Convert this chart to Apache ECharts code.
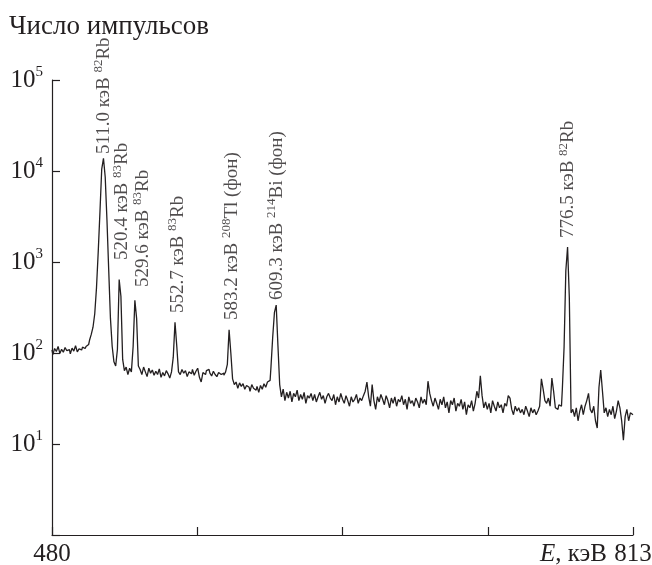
<!DOCTYPE html>
<html>
<head>
<meta charset="utf-8">
<script src="https://cdn.jsdelivr.net/npm/echarts@6/dist/echarts.min.js"></script>
<style>
  html, body { margin: 0; padding: 0; background: #fff; }
  #chart { width: 652px; height: 565px; }
</style>
</head>
<body>
<div id="chart"></div>
<script>
// spectrum: one value per 1 keV channel, starting at 480 keV
const startEnergy = 480;
const channelWidth = 1;
const counts = [
  108, 96, 112, 104, 118, 99, 110, 102, 115, 106,
  109, 98, 113, 105, 120, 103, 111, 108, 116, 112,
  118, 124, 138, 160, 192, 270, 520, 1300, 3600, 10500,
  13800, 8600, 2900, 820, 240, 118, 80, 72, 110, 640,
  420, 85, 64, 70, 58, 68, 62, 118, 380, 240,
  72, 66, 58, 70, 62, 55, 68, 60, 65, 57,
  63, 58, 67, 54, 61, 56, 64, 59, 53, 62,
  90, 218, 120, 62, 58, 66, 60, 64, 55, 62,
  59, 66, 57, 63, 68, 54, 48, 61, 58, 64,
  66, 60, 56, 63, 58, 55, 61, 58, 60, 57,
  62, 75, 180, 100, 52, 45, 48, 41, 47, 43,
  46, 40, 44, 42, 38, 45, 41, 39, 43, 37,
  44, 40, 46, 42, 48, 50, 70, 150, 280, 336,
  120, 45, 33, 40, 30, 37, 32, 38, 29, 36,
  33, 39, 30, 35, 31, 37, 28, 34, 32, 36,
  30, 35, 29, 33, 37, 31, 34, 28, 33, 36,
  32, 30, 35, 27, 33, 29, 36, 31, 28, 34,
  30, 26, 33, 29, 31, 35, 28, 32, 30, 34,
  38, 48, 33, 26, 45, 30, 24, 33, 29, 35,
  31, 27, 34, 30, 25, 32, 28, 33, 26, 31,
  29, 34, 27, 31, 24, 33, 28, 30, 26, 32,
  29, 25, 33, 28, 31, 27, 49, 36, 30, 26,
  32, 28, 24, 31, 27, 33, 25, 29, 22, 30,
  27, 32, 23, 28, 26, 31, 24, 29, 21, 27,
  25, 30, 23, 28, 38, 32, 56, 34, 25, 29,
  24, 28, 22, 30, 26, 23, 29, 25, 27, 22,
  28, 26, 34, 32, 24, 21, 26, 23, 25, 22,
  24, 21, 26, 23, 20, 25, 22, 24, 21, 23,
  26, 52, 40, 30, 28, 32, 26, 53, 38, 25,
  24, 27, 26, 40, 116, 800, 1460, 410, 22, 24,
  20, 25, 18, 23, 27, 21, 26, 30, 36, 24,
  22, 26, 18, 15, 42, 65, 38, 22, 25, 20,
  24, 21, 26, 19, 23, 30, 25, 18, 11, 20,
  24, 18, 22, 21
];

// peak annotations
const peakEnergy = [509.8, 520.2, 532, 552, 583, 609, 775.8];
const peakLabelAt = [15400, 1050, 530, 275, 230, 382, 1835];
const peakText = ['511.0 кэВ ', '520.4 кэВ ', '529.6 кэВ ', '552.7 кэВ ', '583.2 кэВ ', '609.3 кэВ ', '776.5 кэВ '];
const peakMass = ['82', '83', '83', '83', '208', '214', '82'];
const peakNuclide = ['Rb', 'Rb', 'Rb', 'Rb', 'Tl (фон)', 'Bi (фон)', 'Rb'];

const xTicks = [480, 563.25, 646.5, 729.75, 813];
const xLabels = [480, 813];

const ink = '#231f20';
const serif = '"Liberation Serif", "DejaVu Serif", serif';

const spectrum = counts.map((c, i) => [startEnergy + i * channelWidth, c]);
const peaks = peakEnergy.map((e, i) => [e, peakLabelAt[i], i]);

const chart = echarts.init(document.getElementById('chart'));

chart.setOption({
  animation: false,
  title: {
    text: 'Число импульсов',
    left: 4,
    top: 8,
    textStyle: { fontFamily: serif, fontSize: 27, fontWeight: 'normal', color: ink }
  },
  grid: { left: 52, right: 19, top: 80, bottom: 30, containLabel: false, outerBoundsMode: 'none' },
  xAxis: {
    type: 'value',
    min: 480,
    max: 813,
    axisLine: { lineStyle: { color: ink, width: 1.2 } },
    axisTick: { inside: true, length: 8, customValues: xTicks, lineStyle: { color: ink, width: 1.2 } },
    axisLabel: {
      customValues: xLabels,
      margin: 7,
      fontFamily: serif, fontSize: 25, color: ink
    },
    splitLine: { show: false }
  },
  yAxis: {
    type: 'log',
    logBase: 10,
    min: 1,
    max: 100000,
    axisLine: { show: true, lineStyle: { color: ink, width: 1.2 } },
    axisTick: { show: true, inside: true, length: 8, lineStyle: { color: ink, width: 1.2 } },
    minorTick: { show: false },
    axisLabel: {
      margin: 9,
      formatter: function (v) {
        if (v <= 1) return '';
        const e = Math.round(Math.log10(v));
        return '{b|10}{s|' + e + '}';
      },
      rich: {
        b: { fontFamily: serif, fontSize: 25, color: ink },
        s: { fontFamily: serif, fontSize: 15, color: ink, padding: [0, 0, 15, 0] }
      }
    },
    splitLine: { show: false }
  },
  series: [
    {
      type: 'line',
      data: spectrum,
      step: 'middle',
      showSymbol: false,
      lineStyle: { color: ink, width: 1.3 }
    },
    {
      type: 'scatter',
      data: peaks,
      symbolSize: 0,
      silent: true,
      label: {
        show: true,
        position: 'inside',
        rotate: 90,
        align: 'left',
        verticalAlign: 'middle',
        formatter: function (p) {
          const i = p.data[2];
          return '{t|' + peakText[i] + '}{s|' + peakMass[i] + '}{t|' + peakNuclide[i] + '}';
        },
        rich: {
          t: { fontFamily: serif, fontSize: 19, color: ink },
          s: { fontFamily: serif, fontSize: 13, color: ink, padding: [0, 0, 10, 0] }
        }
      }
    }
  ]
});

// axis name sits to the left of the last tick label
const corner = chart.convertToPixel({ gridIndex: 0 }, [813, 1]);
chart.setOption({
  graphic: [{
    type: 'text',
    x: corner[0] - 26,
    y: corner[1] + 7,
    silent: true,
    style: {
      text: '{i|E}, кэВ',
      align: 'right',
      verticalAlign: 'top',
      fill: ink,
      font: '25px ' + serif,
      rich: {
        i: { fontFamily: serif, fontSize: 25, fontStyle: 'italic', fill: ink }
      }
    }
  }]
});
</script>
</body>
</html>
